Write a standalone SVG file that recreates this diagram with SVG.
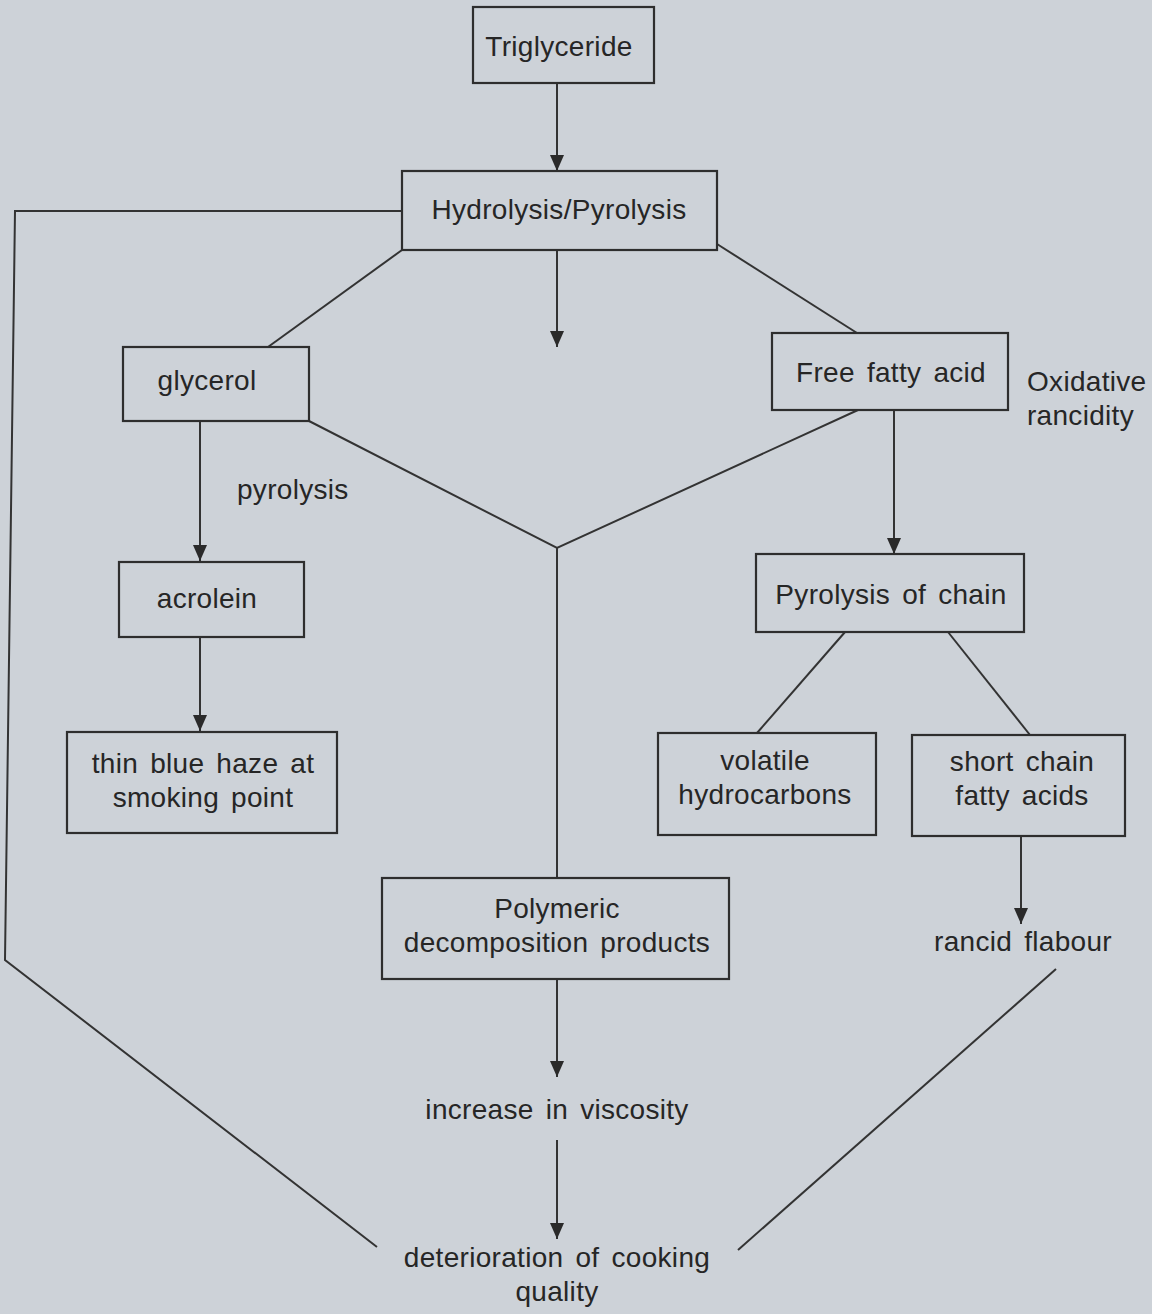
<svg xmlns="http://www.w3.org/2000/svg" width="1152" height="1314" viewBox="0 0 1152 1314">
<defs>
<style>
.bg{fill:#cdd2d8}
.box{fill:none;stroke:#2e2e2e;stroke-width:2.2}
.ln{fill:none;stroke:#333;stroke-width:2}
.t{font-family:"Liberation Sans",Arial,sans-serif;font-size:28px;letter-spacing:0.3px;word-spacing:4px;fill:#262626;text-anchor:middle}
.ts{text-anchor:start}
</style>
<marker id="ah" viewBox="0 0 16 14" refX="16" refY="7" markerWidth="16" markerHeight="14" markerUnits="userSpaceOnUse" orient="auto">
<path d="M0,0 L16,7 L0,14 Z" fill="#2a2a2a"/>
</marker>
</defs>
<rect class="bg" x="0" y="0" width="1152" height="1314"/>
<g id="connectors">
<polyline class="ln" points="402,211 15,211 5,960 377,1247"/>
<line class="ln" x1="402" y1="250" x2="268" y2="347"/>
<line class="ln" x1="717" y1="244" x2="857" y2="333"/>
<polyline class="ln" points="309,421 557,548 858,410"/>
<line class="ln" x1="557" y1="548" x2="557" y2="878"/>
<line class="ln" x1="845" y1="632" x2="757" y2="733"/>
<line class="ln" x1="948" y1="632" x2="1030" y2="735"/>
<line class="ln" x1="1056" y1="969" x2="738" y2="1250"/>
<line class="ln" x1="557" y1="83" x2="557" y2="171" marker-end="url(#ah)"/>
<line class="ln" x1="557" y1="250" x2="557" y2="347" marker-end="url(#ah)"/>
<line class="ln" x1="200" y1="421" x2="200" y2="561" marker-end="url(#ah)"/>
<line class="ln" x1="200" y1="637" x2="200" y2="731" marker-end="url(#ah)"/>
<line class="ln" x1="894" y1="410" x2="894" y2="554" marker-end="url(#ah)"/>
<line class="ln" x1="1021" y1="836" x2="1021" y2="924" marker-end="url(#ah)"/>
<line class="ln" x1="557" y1="979" x2="557" y2="1077" marker-end="url(#ah)"/>
<line class="ln" x1="557" y1="1140" x2="557" y2="1239" marker-end="url(#ah)"/>
</g>
<g id="triglyceride"><rect class="box" x="473" y="7" width="181" height="76"/><text class="t" x="559" y="56">Triglyceride</text></g>
<g id="hydrolysis"><rect class="box" x="402" y="171" width="315" height="79"/><text class="t" x="559" y="219">Hydrolysis/Pyrolysis</text></g>
<g id="glycerol"><rect class="box" x="123" y="347" width="186" height="74"/><text class="t" x="207" y="390">glycerol</text></g>
<g id="ffa"><rect class="box" x="772" y="333" width="236" height="77"/><text class="t" x="891" y="382">Free fatty acid</text></g>
<g id="oxidative"><text class="t ts" x="1027" y="391">Oxidative</text><text class="t ts" x="1027" y="425">rancidity</text></g>
<g id="pyrolysis-label"><text class="t ts" x="237" y="499">pyrolysis</text></g>
<g id="acrolein"><rect class="box" x="119" y="562" width="185" height="75"/><text class="t" x="207" y="608">acrolein</text></g>
<g id="pyrochain"><rect class="box" x="756" y="554" width="268" height="78"/><text class="t" x="891" y="604">Pyrolysis of chain</text></g>
<g id="haze"><rect class="box" x="67" y="732" width="270" height="101"/><text class="t" x="203" y="773">thin blue haze at</text><text class="t" x="203" y="807">smoking point</text></g>
<g id="volatile"><rect class="box" x="658" y="733" width="218" height="102"/><text class="t" x="765" y="770">volatile</text><text class="t" x="765" y="804">hydrocarbons</text></g>
<g id="shortchain"><rect class="box" x="912" y="735" width="213" height="101"/><text class="t" x="1022" y="771">short chain</text><text class="t" x="1022" y="805">fatty acids</text></g>
<g id="polymeric"><rect class="box" x="382" y="878" width="347" height="101"/><text class="t" x="557" y="918">Polymeric</text><text class="t" x="557" y="952">decomposition products</text></g>
<g id="rancid"><text class="t" x="1023" y="951">rancid flabour</text></g>
<g id="viscosity"><text class="t" x="557" y="1119">increase in viscosity</text></g>
<g id="deterioration"><text class="t" x="557" y="1267">deterioration of cooking</text><text class="t" x="557" y="1301">quality</text></g>
</svg>
